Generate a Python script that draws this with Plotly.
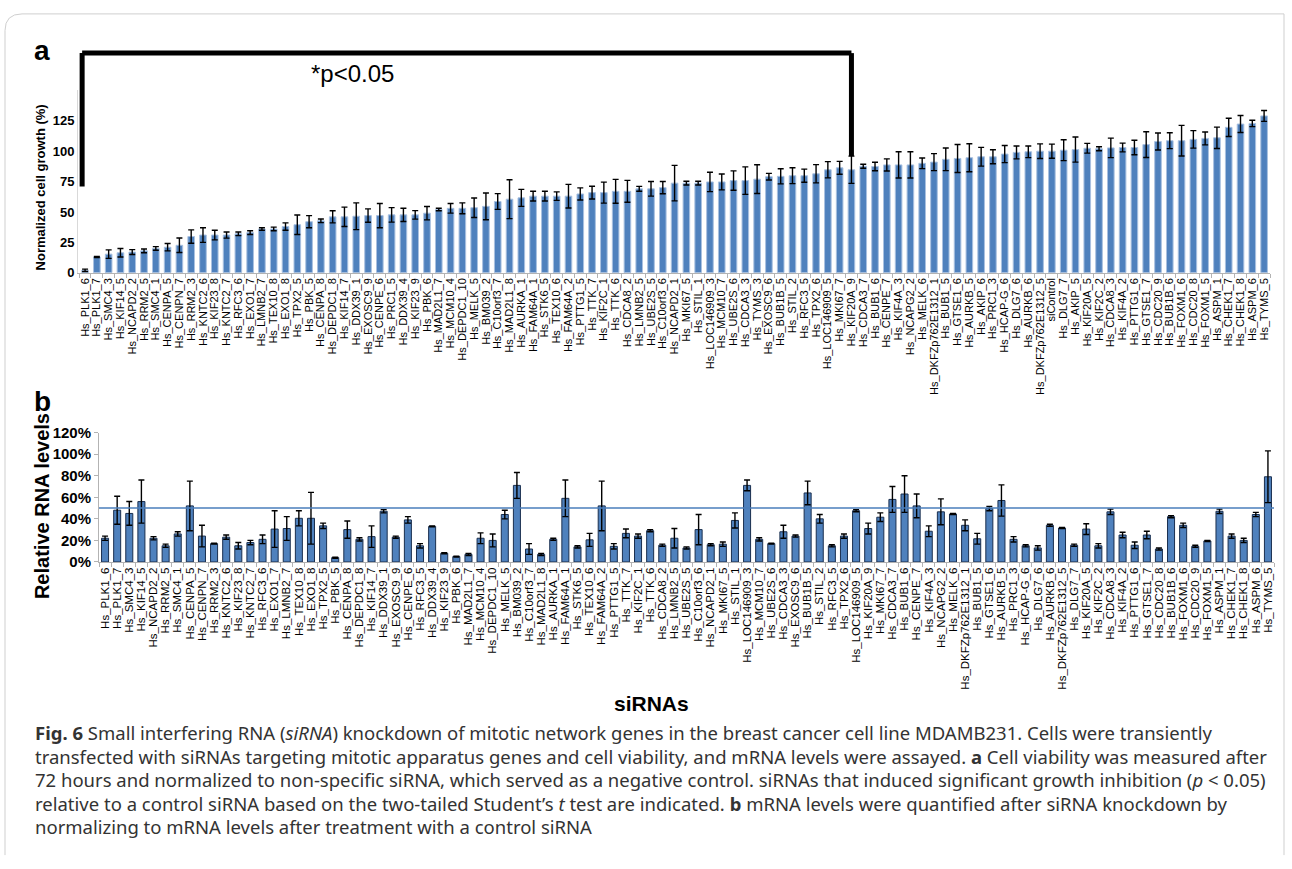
import plotly.graph_objects as go

# ---------------- data ----------------
# Panel a: cell viability after siRNA knockdown (normalized cell growth, %)
labels_a = [
    "Hs_PLK1_6", "Hs_PLK1_7", "Hs_SMC4_3", "Hs_KIF14_5", "Hs_NCAPD2_2", "Hs_RRM2_5",
    "Hs_SMC4_1", "Hs_CENPA_5", "Hs_CENPN_7", "Hs_RRM2_3", "Hs_KNTC2_6", "Hs_KIF23_8",
    "Hs_KNTC2_7", "Hs_RFC3_6", "Hs_EXO1_7", "Hs_LMNB2_7", "Hs_TEX10_8", "Hs_EXO1_8",
    "Hs_TPX2_5", "Hs_PBK_5", "Hs_CENPA_8", "Hs_DEPDC1_8", "Hs_KIF14_7", "Hs_DDX39_1",
    "Hs_EXOSC9_9", "Hs_CENPE_6", "Hs_PRC1_5", "Hs_DDX39_4", "Hs_KIF23_9", "Hs_PBK_6",
    "Hs_MAD2L1_7", "Hs_MCM10_4", "Hs_DEPDC1_10", "Hs_MELK_5", "Hs_BM039_2", "Hs_C10orf3_7",
    "Hs_MAD2L1_8", "Hs_AURKA_1", "Hs_FAM64A_1", "Hs_STK6_5", "Hs_TEX10_6", "Hs_FAM64A_2",
    "Hs_PTTG1_5", "Hs_TTK_7", "Hs_KIF2C_1", "Hs_TTK_6", "Hs_CDCA8_2", "Hs_LMNB2_5",
    "Hs_UBE2S_5", "Hs_C10orf3_6", "Hs_NCAPD2_1", "Hs_MKI67_5", "Hs_STIL_1", "Hs_LOC146909_3",
    "Hs_MCM10_7", "Hs_UBE2S_6", "Hs_CDCA3_3", "Hs_TYMS_3", "Hs_EXOSC9_6", "Hs_BUB1B_5",
    "Hs_STIL_2", "Hs_RFC3_5", "Hs_TPX2_6", "Hs_LOC146909_5", "Hs_MKI67_7", "Hs_KIF20A_9",
    "Hs_CDCA3_7", "Hs_BUB1_6", "Hs_CENPE_7", "Hs_KIF4A_3", "Hs_NCAPG2_2", "Hs_MELK_6",
    "Hs_DKFZp762E1312_1", "Hs_BUB1_5", "Hs_GTSE1_6", "Hs_AURKB_5", "Hs_AKIP_6", "Hs_PRC1_3",
    "Hs_HCAP-G_6", "Hs_DLG7_6", "Hs_AURKB_6", "Hs_DKFZp762E1312_5", "siControl", "Hs_DLG7_7",
    "Hs_AKIP_5", "Hs_KIF20A_5", "Hs_KIF2C_2", "Hs_CDCA8_3", "Hs_KIF4A_2", "Hs_PTTG1_6",
    "Hs_GTSE1_7", "Hs_CDC20_9", "Hs_BUB1B_6", "Hs_FOXM1_6", "Hs_CDC20_8", "Hs_FOXM1_5",
    "Hs_ASPM_1", "Hs_CHEK1_7", "Hs_CHEK1_8", "Hs_ASPM_6", "Hs_TYMS_5",
]
growth_a = [
    2, 13, 15.3, 16.4, 17, 18, 20, 21, 22.6, 29.8, 31, 31,
    31, 32, 33, 36, 36, 38, 39.5, 42, 42.7, 46, 46, 46.5,
    47, 47, 47.6, 47.6, 47.6, 49, 52, 53, 53, 53.5, 54.6, 58.6,
    60.5, 61.6, 63, 63, 63, 63, 64.8, 65.9, 65.9, 67, 67, 69,
    69, 70, 73.7, 73.7, 73.7, 74.7, 74.7, 75.8, 75.8, 77, 79, 79.3,
    79.8, 79.8, 81.4, 84.7, 86.3, 84.7, 87.6, 87.4, 88.7, 88.7, 88.7, 90,
    91, 93.3, 94, 94.6, 95.4, 95.4, 97.6, 99, 99.5, 100, 100, 100.8,
    101.3, 102.4, 102, 102.7, 103, 103, 105.4, 108, 108.6, 108.6, 109.7, 110.5,
    111, 119.6, 122.3, 122.8, 129,
]
growth_err_a = [
    1, 0.5, 3.5, 3.5, 2, 1.5, 1.5, 3, 6, 5.5, 6, 4,
    2.5, 1.5, 1.5, 1, 1.5, 3, 8, 5, 1.5, 5, 8, 11,
    5.5, 10, 6, 5.5, 3.5, 5.5, 1, 4, 4.5, 8, 11, 6.5,
    16, 7, 4, 4, 3.5, 9.7, 5, 5.3, 8.6, 9.8, 9, 2,
    6, 5, 14.6, 1.5, 1.5, 8, 6.5, 8, 11.3, 11.8, 2.7, 6.2,
    6.5, 5.4, 7.5, 6.7, 5.3, 11.2, 1.6, 3.5, 5, 10.8, 10.8, 4.4,
    7, 9.3, 11.5, 11.5, 7.7, 5.8, 7, 5.3, 4.8, 6, 5.8, 8.6,
    10.3, 4, 1.6, 8, 3.6, 6, 10.6, 7, 6.5, 12.6, 7.2, 5.3,
    8.8, 7.5, 7, 2.6, 4.5,
]
growth_ticks = [0, 25, 50, 75, 100, 125]
# last siRNA of the group with significant growth inhibition (p < 0.05)
sig_last = "Hs_KIF20A_9"

# Panel b: relative RNA levels after knockdown (%)
labels_b = [
    "Hs_PLK1_6", "Hs_PLK1_7", "Hs_SMC4_3", "Hs_KIF14_5", "Hs_NCAPD2_2", "Hs_RRM2_5",
    "Hs_SMC4_1", "Hs_CENPA_5", "Hs_CENPN_7", "Hs_RRM2_3", "Hs_KNTC2_6", "Hs_KIF23_8",
    "Hs_KNTC2_7", "Hs_RFC3_6", "Hs_EXO1_7", "Hs_LMNB2_7", "Hs_TEX10_8", "Hs_EXO1_8",
    "Hs_TPX2_5", "Hs_PBK_5", "Hs_CENPA_8", "Hs_DEPDC1_8", "Hs_KIF14_7", "Hs_DDX39_1",
    "Hs_EXOSC9_9", "Hs_CENPE_6", "Hs_RFC3_5", "Hs_DDX39_4", "Hs_KIF23_9", "Hs_PBK_6",
    "Hs_MAD2L1_7", "Hs_MCM10_4", "Hs_DEPDC1_10", "Hs_MELK_5", "Hs_BM039_2", "Hs_C10orf3_7",
    "Hs_MAD2L1_8", "Hs_AURKA_1", "Hs_FAM64A_1", "Hs_STK6_5", "Hs_TEX10_6", "Hs_FAM64A_2",
    "Hs_PTTG1_5", "Hs_TTK_7", "Hs_KIF2C_1", "Hs_TTK_6", "Hs_CDCA8_2", "Hs_LMNB2_5",
    "Hs_UBE2S_5", "Hs_C10orf3_6", "Hs_NCAPD2_1", "Hs_MKI67_5", "Hs_STIL_1", "Hs_LOC146909_3",
    "Hs_MCM10_7", "Hs_UBE2S_6", "Hs_CDCA3_3", "Hs_EXOSC9_6", "Hs_BUB1B_5", "Hs_STIL_2",
    "Hs_RFC3_5", "Hs_TPX2_6", "Hs_LOC146909_5", "Hs_KIF20A_9", "Hs_MKI67_7", "Hs_CDCA3_7",
    "Hs_BUB1_6", "Hs_CENPE_7", "Hs_KIF4A_3", "Hs_NCAPG2_2", "Hs_MELK_6", "Hs_DKFZp762E1312_1",
    "Hs_BUB1_5", "Hs_GTSE1_6", "Hs_AURKB_5", "Hs_PRC1_3", "Hs_HCAP-G_6", "Hs_DLG7_6",
    "Hs_AURKB_6", "Hs_DKFZp762E1312_5", "Hs_DLG7_7", "Hs_KIF20A_5", "Hs_KIF2C_2", "Hs_CDCA8_3",
    "Hs_KIF4A_2", "Hs_PTTG1_6", "Hs_GTSE1_7", "Hs_CDC20_8", "Hs_BUB1B_6", "Hs_FOXM1_6",
    "Hs_CDC20_9", "Hs_FOXM1_5", "Hs_ASPM_1", "Hs_CHEK1_7", "Hs_CHEK1_8", "Hs_ASPM_6",
    "Hs_TYMS_5",
]
rna_b = [
    22, 48, 45, 56, 22, 15, 26, 52, 24, 17, 23, 15,
    18, 21, 30.5, 31, 40.5, 40.5, 33.5, 4, 30, 21, 23.5, 47,
    23, 39, 15, 33, 8, 5, 7, 22, 20, 44, 71, 12,
    7, 21, 59, 14, 20.5, 52, 14.5, 26.5, 24, 29, 15.5, 22,
    13, 30, 16, 16.5, 38.5, 71, 21, 17, 28, 24, 64, 40,
    15, 24, 47.5, 31, 41.5, 58, 63, 52, 28.5, 46.5, 44.5, 34,
    21.5, 49.5, 57, 21, 15, 13, 34, 31.5, 15.5, 30.5, 15, 46.5,
    25, 15.5, 25, 12, 42, 34, 14.5, 19.5, 47, 24, 20, 44,
    79,
]
rna_err_b = [
    2, 13, 11, 20, 1.5, 1.5, 2, 23, 10, 0.5, 2, 3,
    2, 4, 17, 11, 7, 24, 2.5, 0.5, 8, 1.5, 10, 1.5,
    1, 3, 2, 0.5, 0.5, 0.4, 1, 5, 6, 4, 12, 5,
    1, 1, 17, 1, 6, 23, 2.5, 4, 2, 1, 1, 9,
    1, 14, 1, 2, 7, 5, 1.5, 0.5, 6, 1, 11, 4,
    1, 2, 1, 5, 4, 12, 17, 11, 5, 12, 0.5, 5,
    5, 2, 14.5, 2.5, 1, 2, 1, 0.5, 1, 5, 2, 2.5,
    2.5, 3, 3.5, 1, 1, 2, 1, 0.5, 2, 2, 2, 2,
    24,
]
rna_ticks = [0, 20, 40, 60, 80, 100, 120]
threshold_b = 50

# ---------------- figure ----------------
W, H = 1292, 869


def fx(px):
    return px / W


def fy(px):
    return 1 - px / H


BAR_BLUE = "#4f81bd"
FONT = "Liberation Sans, Arial, sans-serif"

xa = list(range(len(labels_a)))
xb = list(range(len(labels_b)))

fig = go.Figure()
fig.add_trace(go.Bar(
    x=xa, y=growth_a, width=0.56,
    marker=dict(color=BAR_BLUE, line=dict(color="#a9c1e0", width=1)),
    error_y=dict(type="data", array=growth_err_a, color="black", thickness=1.4, width=3),
    xaxis="x", yaxis="y", showlegend=False, hoverinfo="x+y",
))
fig.add_trace(go.Bar(
    x=xb, y=rna_b, width=0.58,
    marker=dict(color=BAR_BLUE, line=dict(color="#1a2f4f", width=1)),
    error_y=dict(type="data", array=rna_err_b, color="black", thickness=1.4, width=3),
    xaxis="x2", yaxis="y2", showlegend=False, hoverinfo="x+y",
))

grey = "#b3b3b3"
common_x = dict(
    tickmode="array", tickangle=-90, ticks="", showgrid=False, zeroline=False,
    showline=True, linecolor=grey, linewidth=1,
    minor=dict(ticks="outside", tickmode="linear", tick0=-0.5, dtick=1,
               ticklen=4, tickcolor=grey, showgrid=False),
)

fig.update_layout(
    width=W, height=H, autosize=False,
    margin=dict(l=0, r=0, t=0, b=0),
    paper_bgcolor="white", plot_bgcolor="white",
    font=dict(family=FONT, color="black"),
    bargap=0.4,
    xaxis=dict(
        domain=[fx(78), fx(1270)], range=[-0.6, len(labels_a) - 0.5], anchor="y",
        tickvals=xa, ticktext=labels_a, tickfont=dict(size=11, family=FONT),
        **common_x,
    ),
    yaxis=dict(
        domain=[fy(269), fy(83)], range=[0, 150], anchor="x",
        tickmode="array", tickvals=growth_ticks, ticktext=[str(v) for v in growth_ticks],
        tickfont=dict(size=13, family=FONT, weight="bold"),
        showgrid=False, zeroline=False, showline=True, linecolor="#d9d9d9",
        ticks="",
    ),
    xaxis2=dict(
        domain=[fx(99), fx(1274)], range=[-0.5, len(labels_b) - 0.5], anchor="y2",
        tickvals=xb, ticktext=labels_b, tickfont=dict(size=11.5, family=FONT),
        **common_x,
    ),
    yaxis2=dict(
        domain=[fy(564), fy(432)], range=[0, 120], anchor="x2",
        tickmode="array", tickvals=rna_ticks, ticktext=[f"{v}%" for v in rna_ticks],
        tickfont=dict(size=15, family=FONT, weight="bold"),
        showgrid=False, zeroline=False, showline=True, linecolor=grey,
        ticks="outside", ticklen=4, tickcolor=grey,
    ),
)

# threshold line in panel b
fig.add_shape(type="line", xref="x2 domain", yref="y2", x0=0, x1=1,
              y0=threshold_b, y1=threshold_b,
              line=dict(color="#4a7ebb", width=1.6), layer="above")

# significance bracket over panel a
i_last = labels_a.index(sig_last)
bracket = dict(color="black", width=5)
fig.add_shape(type="line", xref="x", yref="paper", x0=-0.25, x1=-0.25,
              y0=fy(181), y1=fy(45), line=bracket)
fig.add_shape(type="line", xref="x", yref="paper", x0=-0.25, x1=i_last,
              y0=fy(45), y1=fy(45), line=bracket)
fig.add_shape(type="line", xref="x", yref="paper", x0=i_last, x1=i_last,
              y0=fy(45), y1=fy(150), line=bracket)

# outer frame of the figure
fig.add_shape(type="path", xref="paper", yref="paper",
              path=(f"M {fx(5)} {fy(863)} L {fx(5)} {fy(22)} "
                    f"Q {fx(5)} {fy(5)} {fx(22)} {fy(5)} "
                    f"L {fx(1284)} {fy(5)} L {fx(1284)} {fy(863)}"),
              line=dict(color="#cfcfcf", width=1))

ann = []
ann.append(dict(text="<b>a</b>", x=fx(32), y=fy(42), xanchor="left", yanchor="middle",
                font=dict(size=28, family=FONT)))
ann.append(dict(text="<b>b</b>", x=fx(32), y=fy(400), xanchor="left", yanchor="middle",
                font=dict(size=28, family=FONT)))
ann.append(dict(text="*p<0.05", x=fx(309), y=fy(66), xanchor="left", yanchor="middle",
                font=dict(size=24, family=FONT)))
ann.append(dict(text="<b>Normalized cell growth (%)</b>", x=fx(40), y=fy(182),
                textangle=-90, xanchor="center", yanchor="middle",
                font=dict(size=13, family=FONT)))
ann.append(dict(text="<b>Relative RNA levels</b>", x=fx(42), y=fy(507),
                textangle=-90, xanchor="center", yanchor="middle",
                font=dict(size=20, family=FONT)))
ann.append(dict(text="<b>siRNAs</b>", x=fx(651), y=fy(708), xanchor="center", yanchor="middle",
                font=dict(size=21, family=FONT)))

caption = [
    "<b>Fig. 6</b> Small interfering RNA (<i>siRNA</i>) knockdown of mitotic network genes in the "
    "breast cancer cell line MDAMB231. Cells were transiently",
    "transfected with siRNAs targeting mitotic apparatus genes and cell viability, and mRNA levels "
    "were assayed. <b>a</b> Cell viability was measured after",
    "72 hours and normalized to non-specific siRNA, which served as a negative control. siRNAs that "
    "induced significant growth inhibition (<i>p</i> < 0.05)",
    "relative to a control siRNA based on the two-tailed Student\u2019s <i>t</i> test are indicated. "
    "<b>b</b> mRNA levels were quantified after siRNA knockdown by",
    "normalizing to mRNA levels after treatment with a control siRNA",
]
for k, line in enumerate(caption):
    ann.append(dict(text=line, x=fx(33), y=fy(738 + 24 * k), xanchor="left", yanchor="middle",
                    font=dict(size=18.5, family="Noto Sans, sans-serif", color="#333333")))

for a in ann:
    a.update(xref="paper", yref="paper", showarrow=False)
fig.update_layout(annotations=ann)

fig.write_html("out.html")
